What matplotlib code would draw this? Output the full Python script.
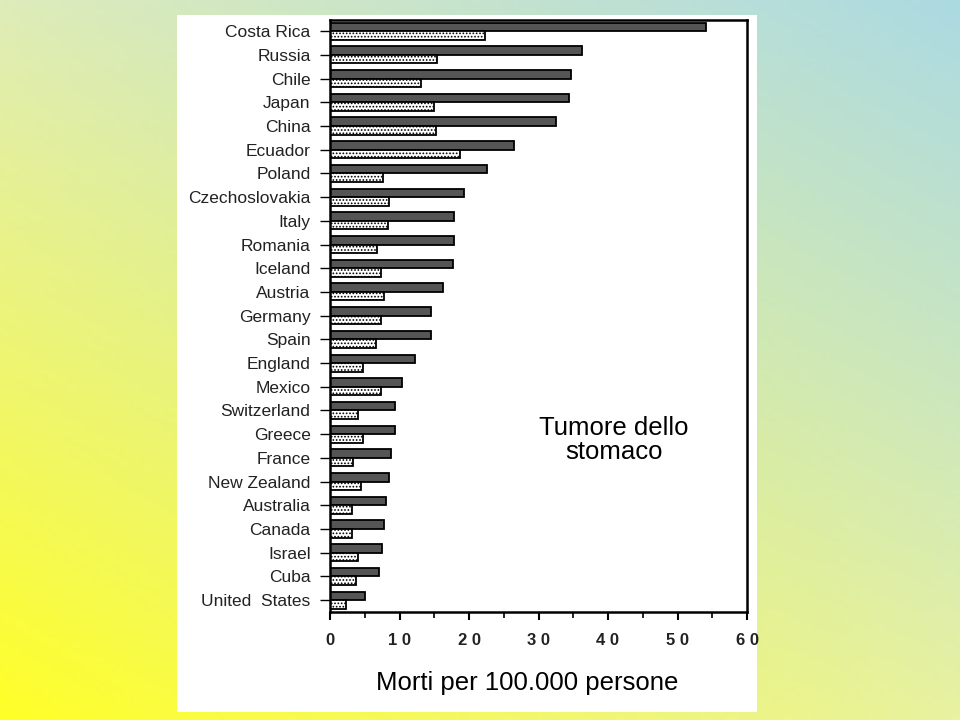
import numpy as np
import matplotlib
matplotlib.use("Agg")
import matplotlib.pyplot as plt
from matplotlib.patches import Rectangle

countries = ["Costa Rica", "Russia", "Chile", "Japan", "China", "Ecuador", "Poland",
             "Czechoslovakia", "Italy", "Romania", "Iceland", "Austria", "Germany",
             "Spain", "England", "Mexico", "Switzerland", "Greece", "France",
             "New Zealand", "Australia", "Canada", "Israel", "Cuba", "United  States"]
male = [54.1, 36.3, 34.7, 34.4, 32.5, 26.5, 22.6, 19.3, 17.8, 17.8, 17.7, 16.3, 14.5,
        14.5, 12.2, 10.4, 9.4, 9.4, 8.8, 8.5, 8.1, 7.8, 7.5, 7.1, 5.0]
female = [22.3, 15.4, 13.1, 15.0, 15.3, 18.7, 7.6, 8.5, 8.3, 6.8, 7.3, 7.8, 7.3,
          6.6, 4.7, 7.3, 4.0, 4.7, 3.3, 4.5, 3.2, 3.2, 4.0, 3.7, 2.3]
xticks = [0, 10, 20, 30, 40, 50, 60]

plt.rcParams['hatch.color'] = '#666666'
plt.rcParams['hatch.linewidth'] = 0.8

fig = plt.figure(figsize=(9.6, 7.2), dpi=100)

# gradient background
bg = fig.add_axes([0, 0, 1, 1])
bl = np.array([255, 255, 40]) / 255.0    # bottom left
br = np.array([232, 242, 160]) / 255.0   # bottom right
tl = np.array([222, 236, 185]) / 255.0   # top left
tr = np.array([172, 218, 226]) / 255.0   # top right
u = np.linspace(0, 1, 200)[None, :, None]
v = np.linspace(0, 1, 150)[:, None, None]
img = (1 - v) * ((1 - u) * tl + u * tr) + v * ((1 - u) * bl + u * br)
bg.imshow(img, aspect='auto', extent=[0, 1, 0, 1])
bg.set_xlim(0, 1)
bg.set_ylim(0, 1)
bg.axis('off')
bg.add_patch(Rectangle((177 / 960, 8 / 720), 580 / 960, 697 / 720,
                       facecolor='white', edgecolor='none'))

ax = fig.add_axes([330 / 960, 1 - 612 / 720, 417 / 960, 592 / 720])
y = np.arange(len(countries))
h = 0.36
ax.barh(y - h / 2, male, height=h, color='#555555', edgecolor='black', linewidth=1.3)
ax.barh(y + h / 2, female, height=h, color='white', edgecolor='black', linewidth=1.3,
        hatch='.....')
ax.set_ylim(len(countries) - 0.5, -0.47)
ax.set_xlim(0, 60)
ax.set_yticks(y)
ax.set_yticklabels(countries, fontsize=12.5, family='Liberation Sans', color='#222222')
ax.set_xticks(xticks)
ax.set_xticklabels([" ".join(str(t)) for t in xticks], fontsize=12, fontweight='bold',
                   family='Liberation Sans', color='#222222')
ax.set_xticks(np.arange(5, 60, 10), minor=True)
ax.tick_params(axis='x', which='major', direction='out', length=6, width=1.5, pad=9)
ax.tick_params(axis='x', which='minor', direction='out', length=4, width=1.2)
ax.tick_params(axis='y', direction='out', length=7, width=1, pad=7)
for s in ax.spines.values():
    s.set_linewidth(1.8)

fig.text(614 / 960, 1 - 440 / 720, "Tumore dello\nstomaco", ha='center', va='center',
         fontsize=18.5, family='Liberation Sans', linespacing=1.0, color='black')
fig.text(527 / 960, 1 - 683 / 720, "Morti per 100.000 persone", ha='center', va='center',
         fontsize=18.5, family='Liberation Sans', color='black')

# legend
bg.add_patch(Rectangle((557 / 960, 1 - 520 / 720), 12 / 960, 12 / 720,
                       facecolor='#555555', edgecolor='black', linewidth=1))
bg.add_patch(Rectangle((557 / 960, 1 - 562 / 720), 12 / 960, 12 / 720,
                       facecolor='white', edgecolor='black', linewidth=1, hatch='....'))
bg.text(586 / 960, 1 - 516 / 720, "Male", ha='left', va='center', fontsize=17,
        fontweight='bold', family='Liberation Sans', color='#222222')
bg.text(586 / 960, 1 - 557 / 720, "Female", ha='left', va='center', fontsize=17,
        fontweight='bold', family='Liberation Sans', color='#222222')

fig.savefig("out.png", dpi=100)
